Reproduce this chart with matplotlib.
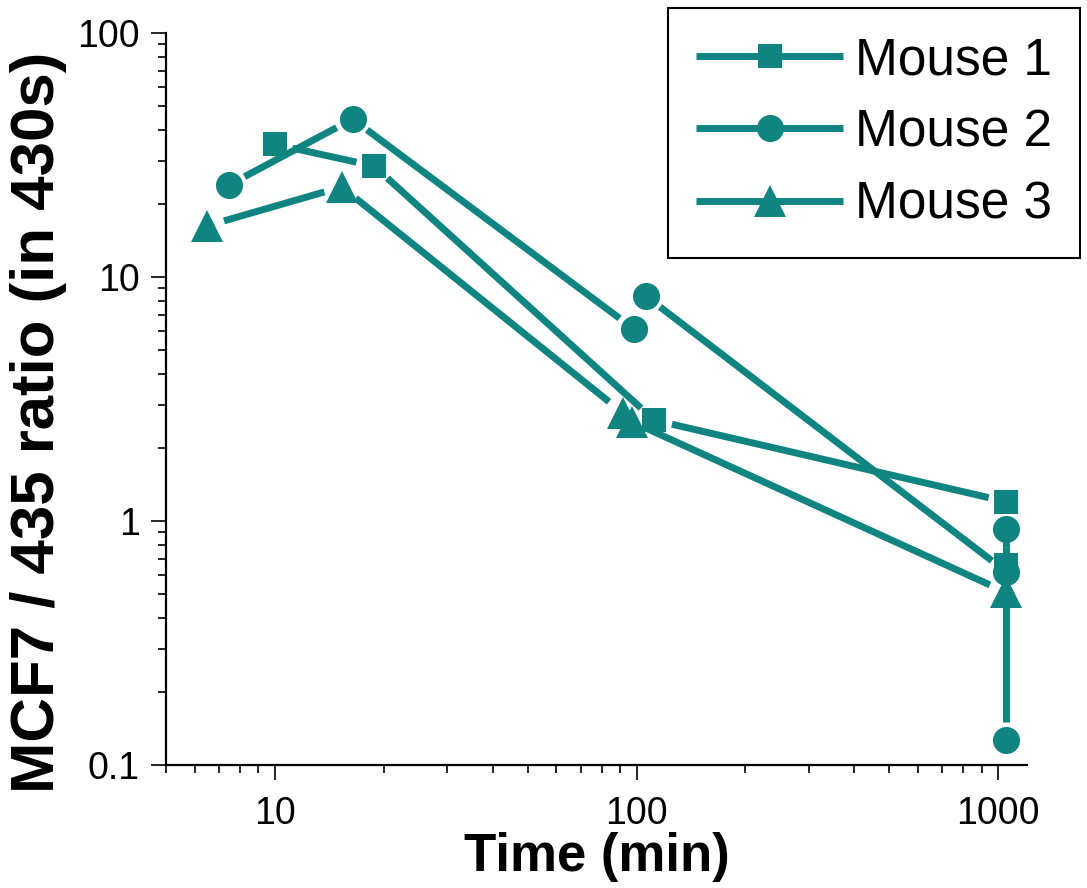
import numpy as np
import matplotlib
matplotlib.use("Agg")
import matplotlib.pyplot as plt
from matplotlib.lines import Line2D
from matplotlib.ticker import LogLocator, NullFormatter, FixedLocator, FixedFormatter

# ---------------- data ----------------
series_names = ["Mouse 1", "Mouse 2", "Mouse 3"]
m1_time = [10, 18.8, 112, 1052, 1052]
m1_ratio = [35, 28.5, 2.59, 1.2, 0.66]
m2_time = [7.45, 16.4, 98.4, 106, 1052, 1052, 1052]
m2_ratio = [23.8, 44.4, 6.12, 8.36, 0.62, 0.93, 0.127]
m3_time = [6.48, 15.3, 91.8, 97.2, 1052]
m3_ratio = [16.2, 23.4, 2.77, 2.55, 0.51]
x_ticks = [10, 100, 1000]
x_ticklabels = ["10", "100", "1000"]
y_ticks = [0.1, 1, 10, 100]
y_ticklabels = ["0.1", "1", "10", "100"]
x_label = "Time (min)"
y_label = "MCF7 / 435 ratio (in 430s)"

# ---------------- style ----------------
plt.rcParams['font.family'] = ['Liberation Sans', 'DejaVu Sans']
teal = '#0f8481'
lw = 5
gap_px = 18
markers = ['s', 'o', '^']
msizes = [17.5, 19.5, 23]
marker_z = [2.5, 2.2, 2.6]

fig = plt.figure(figsize=(10.87, 8.88), dpi=100)
ax = fig.add_axes([0.1527, 0.1385, 0.792, 0.8243])
ax.set_xscale('log')
ax.set_yscale('log')
ax.set_xlim(5, 1200)
ax.set_ylim(0.1, 100)

for s in ['top', 'right']:
    ax.spines[s].set_visible(False)
for s in ['left', 'bottom']:
    ax.spines[s].set_linewidth(1.6)

ax.xaxis.set_major_locator(FixedLocator(x_ticks))
ax.xaxis.set_major_formatter(FixedFormatter(x_ticklabels))
ax.yaxis.set_major_locator(FixedLocator(y_ticks))
ax.yaxis.set_major_formatter(FixedFormatter(y_ticklabels))
ax.xaxis.set_minor_locator(LogLocator(base=10, subs=np.arange(2, 10)))
ax.yaxis.set_minor_locator(LogLocator(base=10, subs=np.arange(2, 10)))
ax.xaxis.set_minor_formatter(NullFormatter())
ax.yaxis.set_minor_formatter(NullFormatter())
ax.tick_params(which='major', direction='out', length=11, width=1.2,
               labelsize=27, pad=8)
ax.tick_params(which='minor', direction='out', length=6, width=1.2)
ax.tick_params(axis='x', which='major', pad=11)

ax.set_xlabel(x_label, fontsize=38, fontweight='bold', labelpad=0)
ax.set_ylabel(y_label, fontsize=44.5, fontweight='bold')
ax.yaxis.set_label_coords(-0.115, 0.4686)


def gapped(xs, ys, **kw):
    pts = ax.transData.transform(np.column_stack([xs, ys]))
    inv = ax.transData.inverted()
    for p0, p1 in zip(pts[:-1], pts[1:]):
        d = p1 - p0
        L = np.hypot(d[0], d[1])
        if L <= 2 * gap_px:
            continue
        u = d / L
        a = p0 + u * gap_px
        b = p1 - u * gap_px
        seg = inv.transform(np.vstack([a, b]))
        ax.plot(seg[:, 0], seg[:, 1], **kw)


all_x = [m1_time, m2_time, m3_time]
all_y = [m1_ratio, m2_ratio, m3_ratio]
handles = []
for xs, ys, mk, ms, mz, name in zip(all_x, all_y, markers, msizes, marker_z,
                                    series_names):
    gapped(xs, ys, color=teal, lw=lw, solid_capstyle='butt', zorder=2)
    ax.plot(xs, ys, linestyle='none', marker=mk, ms=ms, color=teal,
            markeredgewidth=0, zorder=mz)
    handles.append(Line2D([], [], color=teal, lw=lw, marker=mk, ms=ms,
                          markeredgewidth=0, solid_capstyle='butt'))

leg = ax.legend(handles, series_names, loc='upper right',
                bbox_to_anchor=(1080 / 1087, 1 - 8 / 888),
                bbox_transform=fig.transFigure, borderaxespad=0,
                fontsize=37, handlelength=2.85, handletextpad=0.23,
                labelspacing=0.45, borderpad=0.55, numpoints=1,
                fancybox=False, framealpha=1, edgecolor='black')
leg.get_frame().set_linewidth(1.5)

fig.savefig('out.png', dpi=100)
